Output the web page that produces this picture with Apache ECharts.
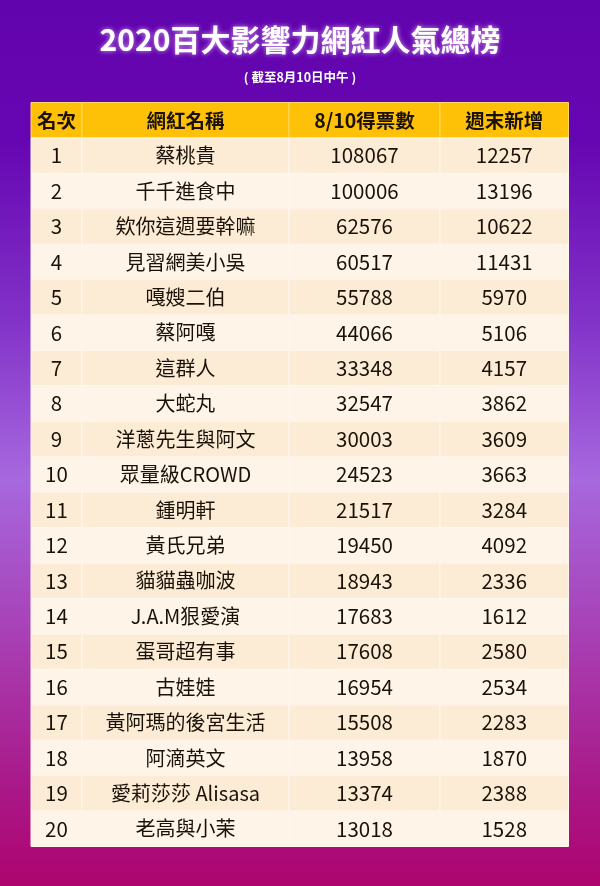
<!DOCTYPE html>
<html><head><meta charset="utf-8">
<style>html,body{margin:0;padding:0;background:#6a0ab4}#c{width:600px;height:886px}</style>
<script src="https://cdn.jsdelivr.net/npm/echarts@6/dist/echarts.min.js"></script>
</head><body><div id="c"></div>
<script>
const titleText = '2020百大影響力網紅人氣總榜';
const subtitleText = '( 截至8月10日中午 )';
const headers = ['名次', '網紅名稱', '8/10得票數', '週末新增'];
const ranks = [1,2,3,4,5,6,7,8,9,10,11,12,13,14,15,16,17,18,19,20];
const names = ['蔡桃貴','千千進食中','欸你這週要幹嘛','見習網美小吳','嘎嫂二伯','蔡阿嘎','這群人','大蛇丸','洋蔥先生與阿文','眾量級CROWD','鍾明軒','黃氏兄弟','貓貓蟲咖波','J.A.M狠愛演','蛋哥超有事','古娃娃','黃阿瑪的後宮生活','阿滴英文','愛莉莎莎 Alisasa','老高與小茉'];
const votes = [108067,100006,62576,60517,55788,44066,33348,32547,30003,24523,21517,19450,18943,17683,17608,16954,15508,13958,13374,13018];
const weekend = [12257,13196,10622,11431,5970,5106,4157,3862,3609,3663,3284,4092,2336,1612,2580,2534,2283,1870,2388,1528];

const columnEdges = [31, 82, 289, 440, 568.5];
const rowLabels = ['header'].concat(ranks.map(String));
const FONT = '"Noto Sans CJK TC","Noto Sans",sans-serif';

const cells = [];
headers.forEach((h, c) => cells.push([c, 0, h]));
ranks.forEach((r, i) => {
  [r, names[i], votes[i], weekend[i]].forEach((v, c) => cells.push([c, i + 1, String(v)]));
});

function renderCell(params, api) {
  const c = api.value(0), r = api.value(1), label = cells[params.dataIndex][2];
  const left = api.coord([columnEdges[c], r]);
  const right = api.coord([columnEdges[c + 1], r]);
  const h = api.size([0, 1])[1];
  const isHeader = r === 0;
  const fill = isHeader ? '#ffc107' : (r % 2 === 1 ? '#fcecd6' : '#fef5e8');
  const size = isHeader ? 19.5 : (c === 1 ? 20 : 20.5);
  return {
    type: 'group',
    children: [
      { type: 'rect',
        shape: { x: left[0], y: left[1] - h / 2, width: right[0] - left[0], height: h },
        style: { fill: fill, stroke: isHeader ? '#ffd966' : '#fff6ec', lineWidth: 1 } },
      { type: 'text',
        style: {
          x: (left[0] + right[0]) / 2, y: left[1] + (isHeader ? 0.5 : 0),
          text: label, align: 'center', verticalAlign: 'middle',
          fontFamily: FONT, fontSize: size,
          fontWeight: isHeader ? 'bold' : 'normal', fill: '#1a1208'
        } }
    ]
  };
}

const chart = echarts.init(document.getElementById('c'), null, { renderer: 'canvas' });
chart.setOption({
  animation: false,
  backgroundColor: {
    type: 'linear', x: 0, y: 0, x2: 0, y2: 1,
    colorStops: [
      { offset: 0, color: '#6204ae' },
      { offset: 0.16, color: '#6606b2' },
      { offset: 0.36, color: '#8232c8' },
      { offset: 0.54, color: '#a768de' },
      { offset: 0.72, color: '#a83fb4' },
      { offset: 0.88, color: '#a91a8a' },
      { offset: 1, color: '#ae046e' }
    ]
  },
  title: [
    { text: titleText, left: 'center', top: 20,
      textStyle: { color: '#fff', fontFamily: FONT, fontWeight: 'bold', fontSize: 30,
        textShadowColor: 'rgba(255,220,255,0.7)', textShadowBlur: 5 } },
    { text: subtitleText, left: 'center', top: 66,
      textStyle: { color: '#fff', fontFamily: FONT, fontWeight: 'bold', fontSize: 12.5 } }
  ],
  grid: { left: 31, right: 31.5, top: 102.5, bottom: 39.5 },
  xAxis: { type: 'value', min: 31, max: 568.5, show: false },
  yAxis: { type: 'category', data: rowLabels, inverse: true, show: false },
  series: [{
    type: 'custom',
    coordinateSystem: 'cartesian2d',
    clip: false,
    data: cells.map(d => [d[0], d[1]]),
    encode: { x: 0, y: 1 },
    renderItem: renderCell,
    silent: true
  }]
});
</script></body></html>
